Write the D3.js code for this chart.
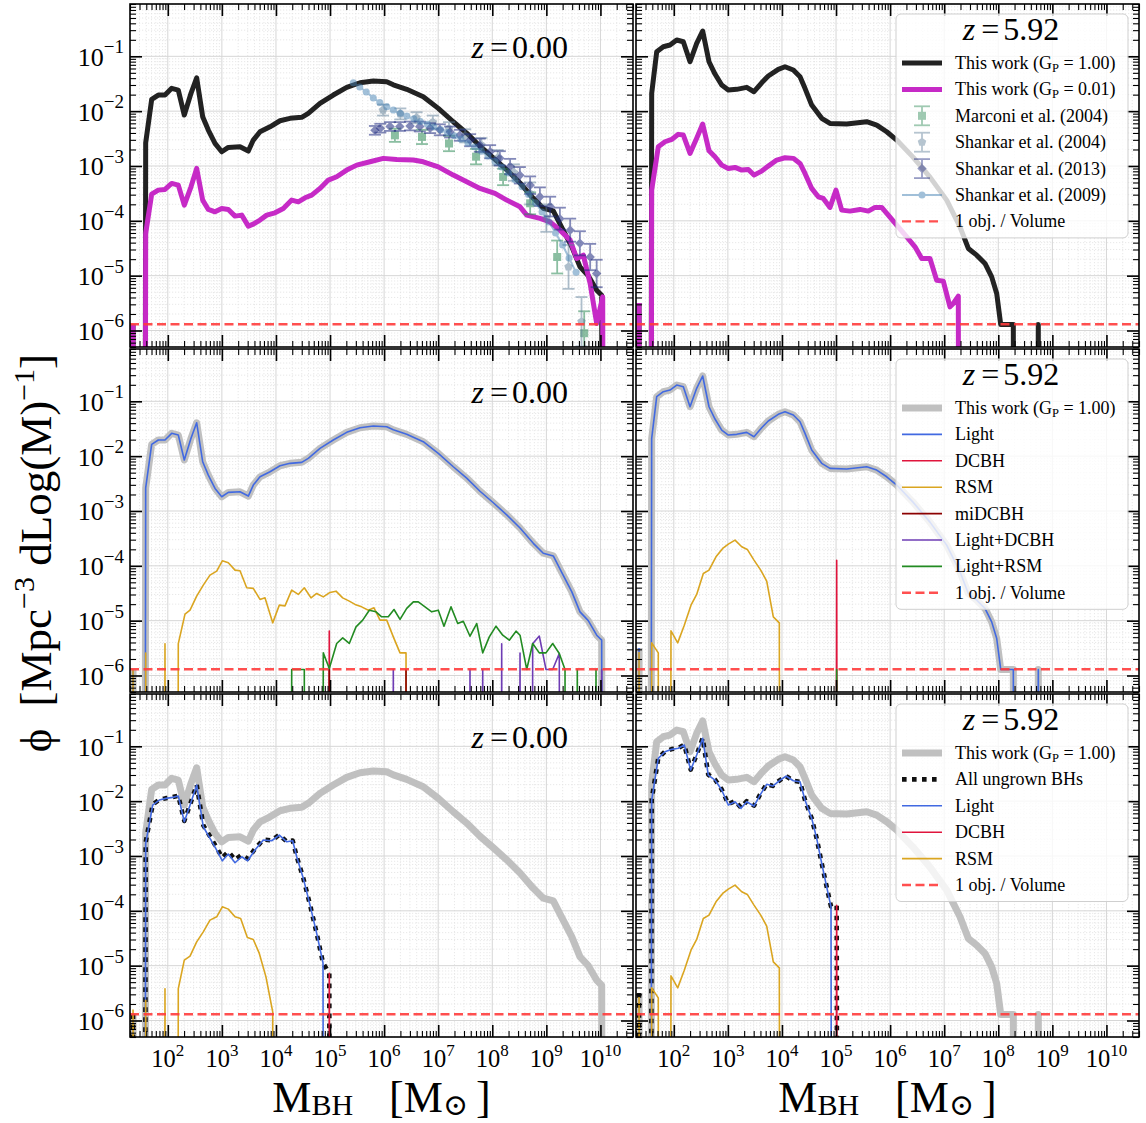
<!DOCTYPE html>
<html>
<head>
<meta charset="utf-8">
<script src="https://cdn.jsdelivr.net/npm/d3@7/dist/d3.min.js"></script>
<style>
  html, body { margin: 0; padding: 0; background: #fff; }
  svg text { font-family: "Liberation Serif", "Times New Roman", "DejaVu Serif", serif; fill: #000; white-space: pre; }
</style>
</head>
<body>
<svg id="fig" width="1146" height="1123"></svg>
<script>
// Black-hole mass functions.
// Each series: [log10(M_BH / Msun), log10(phi / Mpc^-3 dex^-1)]; null marks an empty bin.

// --- This work, G_P = 1.00 (all seeds) ---
const totalZ0 = [[1.357,-5.89],[1.474,null],[1.591,-2.58],[1.702,-1.785],[1.824,-1.706],[1.948,-1.706],[2.072,-1.584],[2.194,-1.615],[2.305,-2.071],[2.429,-1.675],[2.534,-1.391],[2.645,-2.102],[2.749,-2.345],[2.873,-2.588],[2.997,-2.741],[3.119,-2.661],[3.335,-2.65],[3.489,-2.728],[3.581,-2.527],[3.705,-2.376],[3.89,-2.285],[4.075,-2.175],[4.26,-2.131],[4.476,-2.113],[4.598,-2.04],[4.814,-1.858],[5.06,-1.706],[5.308,-1.566],[5.554,-1.482],[5.8,-1.451],[6.048,-1.464],[6.17,-1.52],[6.418,-1.602],[6.724,-1.737],[7.002,-1.949],[7.279,-2.193],[7.527,-2.4],[7.773,-2.64],[8.019,-2.85],[8.267,-3.07],[8.513,-3.31],[8.759,-3.59],[8.943,-3.77],[9.128,-3.82],[9.284,-4.12],[9.469,-4.47],[9.622,-4.84],[9.775,-5.0],[9.931,-5.265],[10.023,-5.356],[10.14,null]];
const totalZ6 = [[1.357,-5.5],[1.474,null],[1.591,-1.675],[1.684,-0.916],[1.806,-0.825],[1.93,-0.794],[2.054,-0.703],[2.176,-0.734],[2.3,-1.099],[2.423,-0.763],[2.534,-0.538],[2.651,-1.099],[2.762,-1.323],[2.886,-1.524],[3.008,-1.615],[3.163,-1.602],[3.348,-1.566],[3.483,-1.646],[3.625,-1.482],[3.747,-1.359],[3.932,-1.237],[4.056,-1.19],[4.21,-1.25],[4.334,-1.372],[4.426,-1.584],[4.55,-1.889],[4.735,-2.131],[4.888,-2.223],[5.197,-2.235],[5.567,-2.193],[5.752,-2.254],[5.937,-2.376],[6.122,-2.527],[6.423,-2.838],[6.737,-3.203],[7.046,-3.622],[7.292,-4.109],[7.446,-4.504],[7.601,-4.626],[7.754,-4.777],[7.878,-5.022],[7.971,-5.325],[8.045,-5.89],[8.162,-5.89],[8.278,-5.89],[8.4,null],[8.62,null],[8.74,-5.89],[8.86,null]];

// --- This work, G_P = 0.01 ---
const lowGpZ0 = [[1.357,-5.89],[1.474,null],[1.591,-4.23],[1.702,-3.513],[1.824,-3.44],[1.948,-3.427],[2.072,-3.318],[2.194,-3.349],[2.305,-3.714],[2.429,-3.38],[2.534,-3.044],[2.645,-3.622],[2.749,-3.792],[2.873,-3.836],[2.997,-3.774],[3.119,-3.792],[3.243,-3.914],[3.367,-3.896],[3.489,-4.097],[3.581,-4.06],[3.705,-3.987],[3.829,-3.896],[3.982,-3.854],[4.136,-3.774],[4.291,-3.622],[4.413,-3.653],[4.537,-3.58],[4.661,-3.531],[4.814,-3.409],[4.968,-3.257],[5.123,-3.197],[5.308,-3.075],[5.493,-2.984],[5.739,-2.923],[5.985,-2.861],[6.233,-2.88],[6.54,-2.892],[6.724,-2.923],[7.002,-3.015],[7.279,-3.166],[7.527,-3.288],[7.773,-3.409],[8.05,-3.5],[8.267,-3.622],[8.513,-3.745],[8.637,-3.896],[8.882,-3.956],[9.067,-4.018],[9.252,-4.17],[9.439,-4.352],[9.561,-4.686],[9.683,-4.626],[9.809,-5.142],[9.931,-5.872],[10.042,-5.387],[10.16,null]];
const lowGpZ6 = [[1.357,-5.5],[1.474,null],[1.591,-3.44],[1.713,-2.65],[1.837,-2.558],[1.961,-2.515],[2.083,-2.423],[2.176,-2.436],[2.3,-2.77],[2.423,-2.496],[2.534,-2.235],[2.651,-2.723],[2.762,-2.832],[2.886,-2.984],[3.008,-3.044],[3.132,-3.026],[3.256,-3.075],[3.378,-3.062],[3.483,-3.166],[3.625,-3.093],[3.747,-3.002],[3.903,-2.892],[4.056,-2.85],[4.21,-2.861],[4.334,-2.953],[4.426,-3.135],[4.55,-3.409],[4.672,-3.562],[4.764,-3.591],[4.888,-3.755],[4.999,-3.44],[5.105,-3.805],[5.258,-3.823],[5.443,-3.792],[5.597,-3.823],[5.72,-3.755],[5.844,-3.755],[5.966,-3.896],[6.122,-4.078],[6.307,-4.292],[6.46,-4.474],[6.584,-4.686],[6.737,-4.686],[6.861,-5.082],[6.983,-5.1],[7.107,-5.569],[7.168,-5.507],[7.261,-5.374],[7.38,null]];

// --- Contributions by seed origin, G_P = 1.00 ---
const lightZ0 = totalZ0;   // light seeds carry essentially the whole population
const lightZ6 = totalZ6;
const dcbhZ0 = [[4.87,null],[4.986,-5.19],[5.1,null]];
const rsmZ0 = [[1.357,-5.89],[1.474,null],[1.591,-5.59],[1.708,null],[1.83,null],[1.948,-5.42],[2.07,null],[2.194,-5.42],[2.318,-4.881],[2.411,-4.809],[2.534,-4.553],[2.656,-4.352],[2.78,-4.17],[2.904,-4.097],[3.008,-3.909],[3.119,-3.945],[3.243,-4.079],[3.335,-4.091],[3.459,-4.401],[3.581,-4.412],[3.705,-4.613],[3.797,-4.584],[3.94,-5.04],[4.062,-4.717],[4.167,-4.73],[4.291,-4.443],[4.413,-4.522],[4.524,-4.401],[4.648,-4.584],[4.753,-4.504],[4.875,-4.566],[4.999,-4.485],[5.11,-4.462],[5.234,-4.584],[5.356,-4.644],[5.462,-4.704],[5.585,-4.748],[5.708,-4.809],[5.813,-4.766],[5.924,-4.991],[6.048,-4.991],[6.17,-5.296],[6.294,-5.588],[6.405,-5.588],[6.52,null]];
const miDcbhZ0 = [[4.87,null],[4.986,-5.89],[5.1,null],[6.29,null],[6.405,-5.89],[6.52,null]];
const lightDcbhZ0 = [[6.05,null],[6.17,-5.89],[6.29,null],[7.47,null],[7.588,-5.89],[7.705,null],[7.823,-5.89],[7.94,null],[8.06,null],[8.174,-5.42],[8.29,null],[8.4,null],[8.513,-5.59],[8.63,null],[8.747,-5.42],[8.869,-5.28],[8.993,-5.89],[9.117,-5.89],[9.239,-5.6],[9.36,null],[9.906,null],[10.023,-5.89],[10.14,null]];
const lightRsmZ0 = [[4.17,null],[4.291,-5.89],[4.41,-5.89],[4.524,-5.89],[4.64,null],[4.758,null],[4.875,-5.588],[4.986,-5.872],[5.123,-5.416],[5.234,-5.314],[5.356,-5.416],[5.48,-5.113],[5.604,-4.991],[5.726,-4.809],[5.85,-4.839],[5.955,-4.93],[6.077,-4.93],[6.183,-4.796],[6.294,-4.978],[6.418,-4.777],[6.54,-4.657],[6.632,-4.657],[6.756,-4.748],[6.88,-4.839],[7.002,-4.809],[7.107,-5.101],[7.237,-4.748],[7.361,-5.052],[7.464,-5.01],[7.588,-5.284],[7.712,-5.052],[7.823,-5.588],[7.945,-5.296],[8.069,-5.101],[8.193,-5.265],[8.315,-5.356],[8.439,-5.192],[8.513,-5.265],[8.637,-5.89],[8.747,-5.416],[8.869,-5.588],[8.993,-5.588],[9.117,-5.416],[9.239,-5.6],[9.345,-5.89],[9.46,null],[9.572,-5.89],[9.69,null],[9.8,null],[9.918,-5.89],[10.03,null]];
const dcbhZ6 = [[4.895,null],[5.012,-3.9],[5.13,null]];
const rsmZ6 = [[1.357,-5.57],[1.474,null],[1.591,-5.405],[1.713,-5.588],[1.83,null],[1.948,-5.186],[2.072,-5.405],[2.194,-5.082],[2.318,-4.717],[2.423,-4.522],[2.546,-4.139],[2.651,-4.079],[2.78,-3.836],[2.904,-3.682],[3.008,-3.604],[3.132,-3.531],[3.256,-3.653],[3.359,-3.701],[3.483,-3.896],[3.607,-4.079],[3.718,-4.279],[3.84,-4.93],[3.951,-5.04],[4.07,null]];
const lightRsmZ6 = [[4.895,null],[5.012,-5.89],[5.13,null]];

// --- Black holes that never grew beyond their seed ---
const allUngrownZ0 = [[1.357,-5.89],[1.474,null],[1.591,-2.75],[1.721,-2.06],[1.843,-1.975],[1.967,-1.945],[2.091,-1.925],[2.194,-1.9],[2.305,-2.36],[2.423,-2.03],[2.534,-1.7],[2.656,-2.44],[2.78,-2.64],[2.904,-2.85],[3.008,-3.03],[3.119,-2.92],[3.243,-3.07],[3.367,-2.98],[3.477,-3.05],[3.612,-2.87],[3.766,-2.7],[3.921,-2.715],[4.062,-2.615],[4.199,-2.737],[4.309,-2.72],[4.384,-3.01],[4.506,-3.405],[4.63,-3.89],[4.753,-4.41],[4.87,-4.95],[4.986,-5.14],[5.1,null]];
const lightUngrownZ0 = [[1.474,null],[1.591,-2.77],[1.721,-2.071],[1.843,-1.98],[1.967,-1.949],[2.091,-1.931],[2.194,-1.907],[2.305,-2.376],[2.423,-2.04],[2.534,-1.706],[2.656,-2.467],[2.78,-2.679],[2.904,-2.892],[3.008,-3.088],[3.119,-2.965],[3.243,-3.123],[3.367,-3.014],[3.477,-3.088],[3.612,-2.892],[3.766,-2.709],[3.921,-2.722],[4.062,-2.619],[4.199,-2.741],[4.309,-2.722],[4.384,-3.014],[4.506,-3.409],[4.63,-3.896],[4.753,-4.412],[4.87,-4.95],[4.99,null]];
const dcbhUngrownZ0 = [[4.87,null],[4.986,-5.14],[5.1,null]];
const rsmUngrownZ0 = [[1.357,-5.8],[1.474,null],[1.591,-5.63],[1.708,null],[1.83,null],[1.948,-5.42],[2.07,null],[2.194,-5.42],[2.305,-4.9],[2.411,-4.827],[2.534,-4.566],[2.656,-4.383],[2.78,-4.17],[2.904,-4.109],[3.008,-3.927],[3.119,-3.969],[3.243,-4.109],[3.347,-4.139],[3.471,-4.486],[3.581,-4.522],[3.692,-4.777],[3.815,-5.204],[3.94,-5.843],[4.06,null]];
const allUngrownZ6 = [[1.357,-5.5],[1.474,null],[1.591,-1.97],[1.713,-1.215],[1.837,-1.095],[1.961,-1.05],[2.083,-1.03],[2.194,-0.972],[2.312,-1.425],[2.423,-1.153],[2.534,-0.85],[2.638,-1.515],[2.762,-1.605],[2.886,-1.785],[3.008,-2.055],[3.132,-1.997],[3.243,-2.118],[3.348,-2.0],[3.483,-2.08],[3.594,-1.882],[3.718,-1.69],[3.829,-1.722],[3.951,-1.626],[4.075,-1.542],[4.21,-1.628],[4.334,-1.646],[4.426,-1.98],[4.55,-2.314],[4.642,-2.679],[4.735,-3.135],[4.827,-3.562],[4.907,-3.92],[5.012,-3.9],[5.13,null]];
const lightUngrownZ6 = [[1.474,null],[1.591,-1.98],[1.713,-1.219],[1.837,-1.099],[1.961,-1.055],[2.083,-1.036],[2.194,-0.976],[2.312,-1.432],[2.423,-1.159],[2.534,-0.854],[2.638,-1.524],[2.762,-1.615],[2.886,-1.797],[3.008,-2.071],[3.132,-2.011],[3.243,-2.131],[3.348,-2.011],[3.483,-2.089],[3.594,-1.889],[3.718,-1.693],[3.829,-1.724],[3.951,-1.628],[4.075,-1.542],[4.21,-1.628],[4.334,-1.646],[4.426,-1.98],[4.55,-2.314],[4.642,-2.679],[4.735,-3.135],[4.827,-3.562],[4.907,-3.927],[5.01,null]];
const dcbhUngrownZ6 = dcbhZ6;
const rsmUngrownZ6 = rsmZ6;

// --- Local observational estimates: [log10 M, log10 phi, error in dex] ---
const marconi2004 = [[6.2,-2.44,0.12],[6.7,-2.47,0.13],[7.2,-2.59,0.14],[7.7,-2.83,0.14],[8.2,-3.2,0.15],[8.7,-3.68,0.2],[9.2,-4.66,0.3],[9.7,-6.05,0.4]];
const shankar2004 = [[5.98,-1.98,0.1],[6.3,-2.05,0.1],[6.6,-2.12,0.1],[6.9,-2.2,0.12],[7.2,-2.32,0.12],[7.5,-2.45,0.12],[7.8,-2.62,0.13],[8.1,-2.85,0.14],[8.4,-3.12,0.15],[8.7,-3.5,0.2],[9.0,-3.95,0.25],[9.41,-4.84,0.4],[9.65,-5.84,0.45]];
const shankar2013 = [[5.83,-2.35,0.08],[5.93,-2.31,0.08],[6.11,-2.28,0.08],[6.29,-2.28,0.08],[6.48,-2.27,0.08],[6.66,-2.28,0.09],[6.85,-2.31,0.09],[7.03,-2.34,0.1],[7.22,-2.38,0.1],[7.4,-2.44,0.1],[7.59,-2.53,0.11],[7.77,-2.62,0.12],[7.96,-2.74,0.12],[8.14,-2.86,0.13],[8.33,-3.01,0.14],[8.51,-3.17,0.15],[8.7,-3.35,0.16],[8.88,-3.56,0.17],[9.07,-3.74,0.18],[9.25,-3.96,0.2],[9.44,-4.17,0.21],[9.62,-4.41,0.22],[9.81,-4.66,0.24],[9.93,-4.96,0.25]];
const shankar2009 = [[5.43,-1.48],[5.55,-1.56],[5.67,-1.65],[5.8,-1.76],[5.92,-1.84],[6.05,-1.92],[6.17,-1.98],[6.3,-2.04],[6.42,-2.09],[6.55,-2.14],[6.67,-2.19],[6.8,-2.24],[6.92,-2.29],[7.05,-2.34],[7.17,-2.39],[7.3,-2.45],[7.42,-2.51],[7.55,-2.58],[7.67,-2.65],[7.8,-2.73],[7.92,-2.82],[8.05,-2.92],[8.17,-3.02],[8.3,-3.13],[8.42,-3.25],[8.55,-3.38],[8.67,-3.52],[8.8,-3.67],[8.92,-3.84],[9.05,-4.02],[9.17,-4.22],[9.3,-4.44],[9.42,-4.68],[9.55,-4.94]];

// One object per simulated volume per dex
const oneObjectPerVolume = 1.3e-6;

// Axis ticks and panel labels
const massTickExponents = [2, 3, 4, 5, 6, 7, 8, 9, 10];
const phiTickExponents = [-1, -2, -3, -4, -5, -6];
const redshiftLabels = ["0.00", "5.92"];

// ---------------------------------------------------------------------------
const svg = d3.select("#fig");
const colX = [130, 636], rowY = [4, 349, 694];
const PW = 503, PH = 343;
const x = d3.scaleLog().domain([20, 4e10]).range([0, PW]);
const y = d3.scaleLog().domain([5e-7, 0.9]).range([PH, 0]);
const EMPTY = 1e-80;   // empty bins drop off the bottom of the log axis
const lineGen = d3.line()
  .x(d => x(Math.pow(10, d[0])))
  .y(d => y(d[1] === null ? EMPTY : Math.pow(10, d[1])));

const STYLE = {
  total:     { color: "#222222", width: 5 },
  lowGp:     { color: "#c62ac6", width: 5 },
  totalGray: { color: "#bdbdbd", width: 7, opacity: 0.95 },
  light:     { color: "#4169e1", width: 1.6 },
  dcbh:      { color: "#e0143c", width: 1.6 },
  rsm:       { color: "#daa520", width: 1.6 },
  midcbh:    { color: "#8b0000", width: 1.6 },
  lightDcbh: { color: "#6e3cb4", width: 1.6 },
  lightRsm:  { color: "#228b22", width: 1.6 },
  ungrown:   { color: "#111111", width: 4.6, dash: "4.6,5.4" },
  oneObj:    { color: "#ff3c3c", width: 2.4, dash: "9,4.5", opacity: 0.9 }
};

// tick values
const majorX = [], minorX = [], majorY = [], minorY = [];
for (let k = 1; k <= 10; k++) for (let m = 1; m <= 9; m++) {
  const v = m * Math.pow(10, k);
  if (v < 20 || v > 4e10) continue;
  (m === 1 ? majorX : minorX).push(v);
}
for (let k = -7; k <= -1; k++) for (let m = 1; m <= 9; m++) {
  const v = m * Math.pow(10, k);
  if (v < 5e-7 || v > 0.9) continue;
  (m === 1 ? majorY : minorY).push(v);
}

function makePanel(col, row, name) {
  const g = svg.append("g").attr("transform", `translate(${colX[col]},${rowY[row]})`);
  g.append("clipPath").attr("id", "clip-" + name)
    .append("rect").attr("width", PW).attr("height", PH);
  const grid = g.append("g");
  minorX.forEach(v => grid.append("line").attr("x1", x(v)).attr("x2", x(v)).attr("y1", 0).attr("y2", PH)
    .attr("stroke", "#e2e2e2").attr("stroke-width", 0.8).attr("stroke-dasharray", "1.2,1.8"));
  minorY.forEach(v => grid.append("line").attr("y1", y(v)).attr("y2", y(v)).attr("x1", 0).attr("x2", PW)
    .attr("stroke", "#e2e2e2").attr("stroke-width", 0.8).attr("stroke-dasharray", "1.2,1.8"));
  majorX.forEach(v => grid.append("line").attr("x1", x(v)).attr("x2", x(v)).attr("y1", 0).attr("y2", PH)
    .attr("stroke", "#d6d6d6").attr("stroke-width", 1));
  majorY.forEach(v => grid.append("line").attr("y1", y(v)).attr("y2", y(v)).attr("x1", 0).attr("x2", PW)
    .attr("stroke", "#d6d6d6").attr("stroke-width", 1));
  const plot = g.append("g").attr("clip-path", `url(#clip-${name})`);
  return { g, plot, col, row };
}

function series(p, data, s) {
  p.plot.append("path").datum(data).attr("d", lineGen)
    .attr("fill", "none").attr("stroke", s.color).attr("stroke-width", s.width)
    .attr("stroke-opacity", s.opacity ?? 1)
    .attr("stroke-dasharray", s.dash ?? null)
    .attr("stroke-linejoin", "round").attr("stroke-linecap", "butt");
}

function oneObjLine(p) {
  series(p, [[Math.log10(20), Math.log10(oneObjectPerVolume)], [Math.log10(4e10), Math.log10(oneObjectPerVolume)]], STYLE.oneObj);
}

function markerPath(kind, size) {
  if (kind === "square") return d3.symbol(d3.symbolSquare, size * size)();
  if (kind === "circle") return d3.symbol(d3.symbolCircle, Math.PI * size * size / 4)();
  if (kind === "diamond") return d3.symbol(d3.symbolSquare, size * size * 0.55)();
  // pentagon
  const r = size / 2, pts = [];
  for (let i = 0; i < 5; i++) {
    const a = -Math.PI / 2 + i * 2 * Math.PI / 5;
    pts.push([r * Math.cos(a), r * Math.sin(a)]);
  }
  return "M" + pts.map(q => q.join(",")).join("L") + "Z";
}

function errorPoints(p, data, color, opacity, kind, size) {
  const grp = p.plot.append("g");
  data.forEach(([lm, lp, e]) => {
    const cx = x(Math.pow(10, lm)), cy = y(Math.pow(10, lp));
    const y1 = y(Math.pow(10, lp - e)), y2 = y(Math.pow(10, lp + e));
    const sub = grp.append("g").attr("opacity", opacity);
    sub.append("line").attr("x1", cx).attr("x2", cx).attr("y1", y1).attr("y2", y2).attr("stroke", color).attr("stroke-width", 1.8);
    [y1, y2].forEach(yy => sub.append("line").attr("x1", cx - 6).attr("x2", cx + 6).attr("y1", yy).attr("y2", yy).attr("stroke", color).attr("stroke-width", 1.8));
    sub.append("path").attr("d", markerPath(kind, size))
      .attr("transform", `translate(${cx},${cy})` + (kind === "diamond" ? " rotate(45)" : ""))
      .attr("fill", color);
  });
}

function shankarLine(p, data) {
  const grp = p.plot.append("g").attr("opacity", 0.5);
  grp.append("path").datum(data).attr("d", lineGen).attr("fill", "none").attr("stroke", "#4682b4").attr("stroke-width", 2);
  data.forEach(d => grp.append("path").attr("d", markerPath("circle", 7))
    .attr("transform", `translate(${x(Math.pow(10, d[0]))},${y(Math.pow(10, d[1]))})`).attr("fill", "#4682b4"));
}

function finishPanel(p) {
  const g = p.g;
  const ax = (gen, tr, vals, len, w) => {
    const a = g.append("g").attr("transform", tr).call(gen.tickValues(vals).tickSize(len).tickFormat(""));
    a.select(".domain").remove();
    a.selectAll("line").attr("stroke", "#000").attr("stroke-width", w);
  };
  ax(d3.axisBottom(x), `translate(0,${PH})`, majorX, -12, 1.6);
  ax(d3.axisBottom(x), `translate(0,${PH})`, minorX, -6, 1.1);
  ax(d3.axisTop(x), "translate(0,0)", majorX, -12, 1.6);
  ax(d3.axisTop(x), "translate(0,0)", minorX, -6, 1.1);
  ax(d3.axisLeft(y), "translate(0,0)", majorY, -12, 1.6);
  ax(d3.axisLeft(y), "translate(0,0)", minorY, -6, 1.1);
  ax(d3.axisRight(y), `translate(${PW},0)`, majorY, -12, 1.6);
  ax(d3.axisRight(y), `translate(${PW},0)`, minorY, -6, 1.1);
  g.append("rect").attr("width", PW).attr("height", PH).attr("fill", "none").attr("stroke", "#000").attr("stroke-width", 1.6);

  if (p.col === 0) {
    phiTickExponents.forEach(k => {
      const t = g.append("text").attr("x", -6).attr("y", y(Math.pow(10, k)) + 9.5)
        .attr("text-anchor", "end").attr("font-size", 26);
      t.append("tspan").text("10");
      t.append("tspan").attr("font-size", 19).attr("dy", -12.5).text("\u2212" + Math.abs(k));
    });
  }
  if (p.row === 2) {
    massTickExponents.forEach(k => {
      const t = g.append("text").attr("x", x(Math.pow(10, k))).attr("y", PH + 30)
        .attr("text-anchor", "middle").attr("font-size", 24.5);
      t.append("tspan").text("10");
      t.append("tspan").attr("font-size", 17).attr("dy", -11).text(String(k));
    });
    const t = g.append("text").attr("x", PW / 2).attr("y", PH + 75)
      .attr("text-anchor", "middle").attr("font-size", 44);
    t.append("tspan").text("M");
    t.append("tspan").attr("font-size", 30).attr("dy", 3).text("BH");
    t.append("tspan").attr("dy", -3).attr("dx", 36).text("[M");
    t.append("tspan").attr("font-size", 30).attr("dy", 3).text("\u2299");
    t.append("tspan").attr("dy", -3).attr("dx", 8).text("]");
  }
}

function zText(parent, value, xPos, yPos, anchor) {
  const t = parent.append("text").attr("x", xPos).attr("y", yPos).attr("text-anchor", anchor).attr("font-size", 32);
  t.append("tspan").attr("font-style", "italic").text("z");
  t.append("tspan").attr("dx", 6).text("=");
  t.append("tspan").attr("dx", 4).text(value);
}

function gpLabel(t, val) {
  t.append("tspan").text("This work (G");
  t.append("tspan").attr("font-size", 12.5).attr("dy", 2.5).text("P");
  t.append("tspan").attr("dy", -2.5).text(" = " + val + ")");
}

function legend(p, entries) {
  const g = p.g.append("g");
  const x0 = 260, x1 = 492, top = 10, first = 59, step = 26.4;
  const h = first + (entries.length - 1) * step + 16.5 - top;
  g.append("rect").attr("x", x0).attr("y", top).attr("width", x1 - x0).attr("height", h).attr("rx", 5)
    .attr("fill", "#fff").attr("fill-opacity", 0.8).attr("stroke", "#cfcfcf").attr("stroke-width", 1);
  zText(g, redshiftLabels[1], 375, 36, "middle");
  entries.forEach((e, i) => {
    const cy = first + i * step;
    const hx0 = 266, hx1 = 306, hc = (hx0 + hx1) / 2;
    if (e.kind === "line") {
      g.append("line").attr("x1", hx0).attr("x2", hx1).attr("y1", cy).attr("y2", cy)
        .attr("stroke", e.s.color).attr("stroke-width", e.s.width).attr("stroke-opacity", e.s.opacity ?? 1)
        .attr("stroke-dasharray", e.s.dash ?? null);
    } else if (e.kind === "err") {
      const sub = g.append("g").attr("opacity", e.opacity);
      sub.append("line").attr("x1", hc).attr("x2", hc).attr("y1", cy - 9.5).attr("y2", cy + 9.5).attr("stroke", e.color).attr("stroke-width", 1.8);
      [cy - 9.5, cy + 9.5].forEach(yy => sub.append("line").attr("x1", hc - 8).attr("x2", hc + 8).attr("y1", yy).attr("y2", yy).attr("stroke", e.color).attr("stroke-width", 1.8));
      sub.append("path").attr("d", markerPath(e.marker, e.size))
        .attr("transform", `translate(${hc},${cy})` + (e.marker === "diamond" ? " rotate(45)" : "")).attr("fill", e.color);
    } else if (e.kind === "sline") {
      const sub = g.append("g").attr("opacity", 0.5);
      sub.append("line").attr("x1", hx0).attr("x2", hx1).attr("y1", cy).attr("y2", cy).attr("stroke", "#4682b4").attr("stroke-width", 2);
      sub.append("path").attr("d", markerPath("circle", 7)).attr("transform", `translate(${hc},${cy})`).attr("fill", "#4682b4");
    }
    const t = g.append("text").attr("x", 319).attr("y", cy + 6).attr("font-size", 18);
    if (e.gp) gpLabel(t, e.gp); else t.text(e.label);
  });
}

// ---------------------------------------------------------------------------
// Row 1: growth-efficiency comparison
const pTL = makePanel(0, 0, "tl");
series(pTL, totalZ0, STYLE.total);
series(pTL, lowGpZ0, STYLE.lowGp);
errorPoints(pTL, marconi2004, "#2e8b57", 0.55, "square", 8);
errorPoints(pTL, shankar2004, "#5f7f99", 0.5, "pentagon", 9);
errorPoints(pTL, shankar2013, "#1f2a80", 0.55, "diamond", 9);
shankarLine(pTL, shankar2009);
oneObjLine(pTL);
finishPanel(pTL);
zText(pTL.g, redshiftLabels[0], 438, 54, "end");

const pTR = makePanel(1, 0, "tr");
series(pTR, totalZ6, STYLE.total);
series(pTR, lowGpZ6, STYLE.lowGp);
oneObjLine(pTR);
finishPanel(pTR);
legend(pTR, [
  { kind: "line", s: STYLE.total, gp: "1.00" },
  { kind: "line", s: STYLE.lowGp, gp: "0.01" },
  { kind: "err", color: "#2e8b57", opacity: 0.45, marker: "square", size: 8, label: "Marconi et al. (2004)" },
  { kind: "err", color: "#5f7f99", opacity: 0.45, marker: "pentagon", size: 9, label: "Shankar et al. (2004)" },
  { kind: "err", color: "#1f2a80", opacity: 0.45, marker: "diamond", size: 9, label: "Shankar et al. (2013)" },
  { kind: "sline", label: "Shankar et al. (2009)" },
  { kind: "line", s: STYLE.oneObj, label: "1 obj. / Volume" }
]);

// Row 2: split by seed origin
const pML = makePanel(0, 1, "ml");
series(pML, totalZ0, STYLE.totalGray);
series(pML, lightZ0, STYLE.light);
series(pML, dcbhZ0, STYLE.dcbh);
series(pML, rsmZ0, STYLE.rsm);
series(pML, miDcbhZ0, STYLE.midcbh);
series(pML, lightDcbhZ0, STYLE.lightDcbh);
series(pML, lightRsmZ0, STYLE.lightRsm);
oneObjLine(pML);
finishPanel(pML);
zText(pML.g, redshiftLabels[0], 438, 54, "end");

const pMR = makePanel(1, 1, "mr");
series(pMR, totalZ6, STYLE.totalGray);
series(pMR, lightZ6, STYLE.light);
series(pMR, dcbhZ6, STYLE.dcbh);
series(pMR, rsmZ6, STYLE.rsm);
series(pMR, lightRsmZ6, STYLE.lightRsm);
oneObjLine(pMR);
finishPanel(pMR);
legend(pMR, [
  { kind: "line", s: STYLE.totalGray, gp: "1.00" },
  { kind: "line", s: STYLE.light, label: "Light" },
  { kind: "line", s: STYLE.dcbh, label: "DCBH" },
  { kind: "line", s: STYLE.rsm, label: "RSM" },
  { kind: "line", s: STYLE.midcbh, label: "miDCBH" },
  { kind: "line", s: STYLE.lightDcbh, label: "Light+DCBH" },
  { kind: "line", s: STYLE.lightRsm, label: "Light+RSM" },
  { kind: "line", s: STYLE.oneObj, label: "1 obj. / Volume" }
]);

// Row 3: black holes that stayed at their seed mass
const pBL = makePanel(0, 2, "bl");
series(pBL, totalZ0, STYLE.totalGray);
series(pBL, allUngrownZ0, STYLE.ungrown);
series(pBL, lightUngrownZ0, STYLE.light);
series(pBL, dcbhUngrownZ0, STYLE.dcbh);
series(pBL, rsmUngrownZ0, STYLE.rsm);
oneObjLine(pBL);
finishPanel(pBL);
zText(pBL.g, redshiftLabels[0], 438, 54, "end");

const pBR = makePanel(1, 2, "br");
series(pBR, totalZ6, STYLE.totalGray);
series(pBR, allUngrownZ6, STYLE.ungrown);
series(pBR, lightUngrownZ6, STYLE.light);
series(pBR, dcbhUngrownZ6, STYLE.dcbh);
series(pBR, rsmUngrownZ6, STYLE.rsm);
oneObjLine(pBR);
finishPanel(pBR);
legend(pBR, [
  { kind: "line", s: STYLE.totalGray, gp: "1.00" },
  { kind: "line", s: STYLE.ungrown, label: "All ungrown BHs" },
  { kind: "line", s: STYLE.light, label: "Light" },
  { kind: "line", s: STYLE.dcbh, label: "DCBH" },
  { kind: "line", s: STYLE.rsm, label: "RSM" },
  { kind: "line", s: STYLE.oneObj, label: "1 obj. / Volume" }
]);

// Shared y-axis title
const yt = svg.append("text").attr("transform", "translate(51,553) rotate(-90)")
  .attr("text-anchor", "middle").attr("font-size", 45);
yt.append("tspan").text("\u03d5");
yt.append("tspan").attr("dx", 22).text("[Mpc");
yt.append("tspan").attr("font-size", 30).attr("dy", -17).text("\u22123");
yt.append("tspan").attr("dy", 17).text(" dLog(M)");
yt.append("tspan").attr("font-size", 30).attr("dy", -17).text("\u22121");
yt.append("tspan").attr("dy", 17).text("]");
</script>
</body>
</html>
